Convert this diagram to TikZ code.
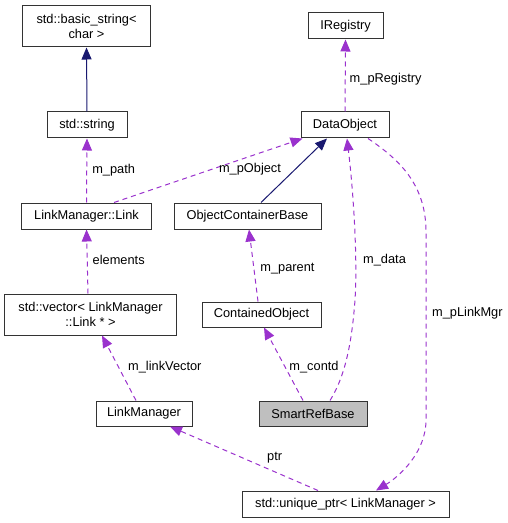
\documentclass[tikz,border=0pt]{standalone}
\usepackage{fontspec}
\setmainfont{Liberation Sans}
\usetikzlibrary{arrows.meta}
\definecolor{edgepurple}{HTML}{9A32CD}
\definecolor{inhnavy}{HTML}{191970}
\definecolor{boxgray}{HTML}{BFBFBF}
\begin{document}
\begin{tikzpicture}[x=1bp,y=-1bp,
  every node/.style={font=\fontsize{12.8bp}{14.5bp}\selectfont},
  classbox/.style={draw=black!80,line width=1bp,inner sep=0pt,align=center,fill=white},
  usage/.style={draw=edgepurple,line width=1bp,dash pattern=on 5bp off 4bp,-{Triangle[length=12bp,width=10bp]}},
  inherit/.style={draw=inhnavy,line width=1bp,-{Triangle[length=12bp,width=10bp]}},
  elabel/.style={inner sep=0pt,anchor=west}]
\useasboundingbox (0,0) rectangle (508,523);
% nodes
\node[classbox,minimum width=127bp,minimum height=41bp] (bs) at (86.5,26.5) {std::basic\_string<\\char >};
\node[classbox,minimum width=80bp,minimum height=26bp] (str) at (87,125) {std::string};
\node[classbox,minimum width=129bp,minimum height=26bp] (link) at (86.5,216) {LinkManager::Link};
\node[classbox,minimum width=147bp,minimum height=26bp] (ocb) at (247.5,216) {ObjectContainerBase};
\node[classbox,minimum width=75bp,minimum height=26bp] (ireg) at (345.5,26) {IRegistry};
\node[classbox,minimum width=88bp,minimum height=26bp] (dobj) at (345,125) {DataObject};
\node[classbox,minimum width=171bp,minimum height=41bp] (vec) at (90.5,314.5) {std::vector< LinkManager\\::Link * >};
\node[classbox,minimum width=119bp,minimum height=25bp] (cobj) at (261.5,314.5) {ContainedObject};
\node[classbox,minimum width=96bp,minimum height=25bp] (lm) at (144,413.5) {LinkManager};
\node[classbox,fill=boxgray,minimum width=108bp,minimum height=25bp] (srb) at (313,413.5) {SmartRefBase};
\node[classbox,minimum width=207bp,minimum height=26bp] (uptr) at (345.5,504) {std::unique\_ptr< LinkManager >};
% edges
\draw[inherit] (str.north) -- (bs.south);
\draw[usage] (link.north) -- (str.south) node[elabel,pos=0.5,xshift=5bp] (lpath) {m\_path};
\draw[usage] ([xshift=27.5bp]link.north) -- ([xshift=2bp]dobj.south west);
\node[inner sep=0pt] (lpobj) at (250,169) {m\_pObject};
\draw[inherit] ([xshift=13.5bp]ocb.north) -- ([xshift=-18bp]dobj.south);
\draw[usage] (dobj.north) -- (ireg.south) node[elabel,pos=0.45,xshift=4bp] (lpreg) {m\_pRegistry};
\draw[usage] ([xshift=-2.5bp]vec.north) -- (link.south) node[elabel,pos=0.52,xshift=5bp] (lelem) {elements};
\draw[usage] ([xshift=-3.5bp]cobj.north) -- ([xshift=1.5bp]ocb.south) node[elabel,pos=0.46,xshift=6bp] (lpar) {m\_parent};
\draw[usage] ([xshift=-8bp]lm.north) -- ([xshift=11.5bp]vec.south);
\node[elabel] (llv) at (128,367) {m\_linkVector};
\draw[usage] ([xshift=-10bp]srb.north) -- ([xshift=2.5bp]cobj.south);
\node[inner sep=0pt] (lcontd) at (314,367) {m\_contd};
\draw[usage] ([xshift=17bp]srb.north) .. controls (346,375) and (352,340) .. (355,300)
  .. controls (358,250) and (352,180) .. ([xshift=2bp]dobj.south);
\node[elabel] (ldata) at (363,260) {m\_data};
\draw[usage] ([xshift=23bp]dobj.south) .. controls (400,160) and (426,185) .. (426,232)
  -- (426,420) .. controls (426,452) and (400,476) .. ([xshift=30.5bp]uptr.north);
\node[elabel] (lplm) at (432,313) {m\_pLinkMgr};
\draw[usage] ([xshift=-27.5bp]uptr.north) -- ([xshift=26bp]lm.south);
\node[elabel] (lptr) at (267,458) {ptr};
\end{tikzpicture}
\end{document}
